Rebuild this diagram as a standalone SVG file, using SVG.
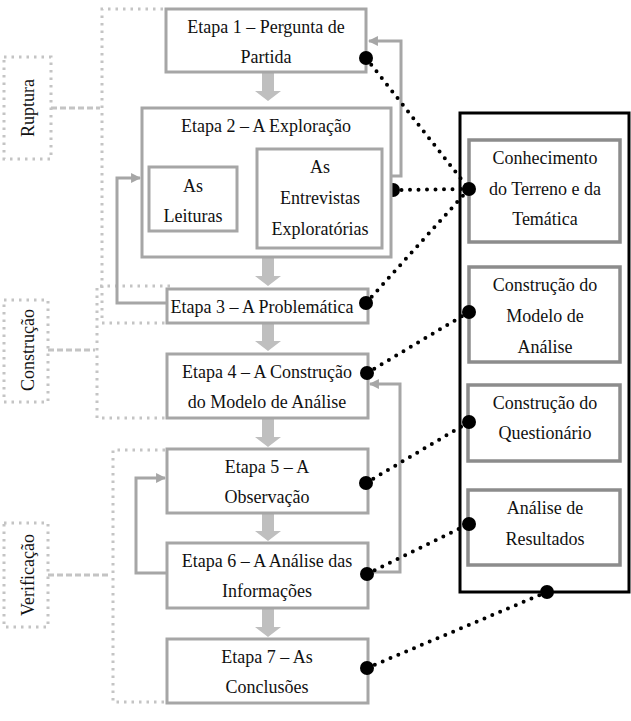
<svg xmlns="http://www.w3.org/2000/svg" width="631" height="721" viewBox="0 0 631 721" font-family="Liberation Serif">
<style>
.box{fill:#fff;stroke:#a6a6a6;stroke-width:3}
.rbox{fill:#fff;stroke:#8c8c8c;stroke-width:3.5}
.t{font-family:"Liberation Serif",serif;font-size:18px;fill:#111;text-anchor:middle}
.gdot{fill:none;stroke:#c4c4c4;stroke-width:3;stroke-dasharray:2.5 5}
.gdash{fill:none;stroke:#c4c4c4;stroke-width:3;stroke-dasharray:6 3}
.fb{fill:none;stroke:#a6a6a6;stroke-width:3}
.thin{fill:none;stroke:#a6a6a6;stroke-width:1.5}
.bdot{fill:none;stroke:#000;stroke-width:4;stroke-dasharray:0 8.5;stroke-linecap:round}
.blk{fill:#bfbfbf}
.pt{fill:#000}
</style>
<defs>
<marker id="ah" viewBox="0 0 10 10" refX="9" refY="5" markerWidth="3.3" markerHeight="3.3" orient="auto" markerUnits="strokeWidth">
<path d="M0,0 L10,5 L0,10 z" fill="#a6a6a6"/>
</marker>
<marker id="ahs" viewBox="0 0 10 10" refX="9" refY="5" markerWidth="6" markerHeight="6" orient="auto" markerUnits="strokeWidth">
<path d="M0,0 L10,5 L0,10 z" fill="#a6a6a6"/>
</marker>
</defs>
<rect width="631" height="721" fill="#fff"/>

<g id="ruptura">
<path class="gdot" d="M163,9 H102 V323 H165"/>
<rect class="gdot" x="4" y="57" width="47" height="102"/>
<path class="gdash" d="M51,108 H100"/>
<text class="t" transform="translate(34,108) rotate(-90)">Ruptura</text>
</g>
<g id="construcao">
<path class="gdot" d="M170,286 H97 V418 H165"/>
<rect class="gdot" x="4" y="300" width="44" height="102"/>
<path class="gdash" d="M48,350 H95"/>
<text class="t" transform="translate(34,350) rotate(-90)">Construção</text>
</g>
<g id="verificacao">
<path class="gdot" d="M165,450 H113 V702 H165"/>
<rect class="gdot" x="4" y="523" width="44" height="104"/>
<path class="gdash" d="M48,575 H111"/>
<text class="t" transform="translate(34,575) rotate(-90)">Verificação</text>
</g>

<g id="painel">
<rect x="460" y="113" width="169" height="479" fill="#fff" stroke="#000" stroke-width="3"/>
</g>
<g id="conhecimento">
<rect class="rbox" x="469" y="140" width="151" height="102"/>
<text class="t" x="545" y="164">Conhecimento</text>
<text class="t" x="545" y="195">do Terreno e da</text>
<text class="t" x="545" y="225">Temática</text>
</g>
<g id="modelo">
<rect class="rbox" x="469" y="267" width="151" height="95"/>
<text class="t" x="545" y="291">Construção do</text>
<text class="t" x="545" y="322">Modelo de</text>
<text class="t" x="545" y="353">Análise</text>
</g>
<g id="questionario">
<rect class="rbox" x="468" y="385" width="152" height="76"/>
<text class="t" x="545" y="409">Construção do</text>
<text class="t" x="545" y="439">Questionário</text>
</g>
<g id="resultados">
<rect class="rbox" x="468" y="490" width="152" height="75"/>
<text class="t" x="545" y="514">Análise de</text>
<text class="t" x="545" y="545">Resultados</text>
</g>

<g id="connectors">
<path class="blk" d="M262,72 H274 V91 H281 L268,101 L255,91 H262 Z"/>
<path class="blk" d="M262,257 H274 V276 H281 L268,286 L255,276 H262 Z"/>
<path class="blk" d="M262,323 H274 V341 H281 L268,351 L255,341 H262 Z"/>
<path class="blk" d="M262,418 H274 V437 H281 L268,447 L255,437 H262 Z"/>
<path class="blk" d="M262,513 H274 V531 H281 L268,541 L255,531 H262 Z"/>
<path class="blk" d="M262,608 H274 V627 H281 L268,637 L255,627 H262 Z"/>
<path class="fb" marker-end="url(#ah)" d="M391,176 H401 V41 H369"/>
<path class="fb" marker-end="url(#ah)" d="M167,303 H117 V178 H140"/>
<path class="fb" marker-end="url(#ah)" d="M167,573 H136 V478 H165"/>
<path class="fb" marker-end="url(#ah)" d="M368,572 H400 V384 H370"/>
<path class="thin" marker-end="url(#ahs)" d="M238,190 H256"/>
<path class="thin" marker-end="url(#ahs)" d="M257,207 H239"/>
<path class="bdot" d="M366,58 L469,189"/>
<path class="bdot" d="M393,190 L469,189"/>
<path class="bdot" d="M366,303 L469,189"/>
<path class="bdot" d="M367,373 L469,312"/>
<path class="bdot" d="M366,483 L469,422"/>
<path class="bdot" d="M367,574 L469,524"/>
<path class="bdot" d="M367,668 L547,592"/>
<circle class="pt" cx="393" cy="190" r="7"/>
<circle class="pt" cx="469" cy="189" r="7"/>
<circle class="pt" cx="469" cy="312" r="7"/>
<circle class="pt" cx="469" cy="422" r="7"/>
<circle class="pt" cx="469" cy="524" r="7"/>
<circle class="pt" cx="547" cy="592" r="7"/>
</g>

<g id="etapa1">
<rect class="box" x="166" y="9" width="200" height="63"/>
<text class="t" x="266" y="33">Etapa 1 – Pergunta de</text>
<text class="t" x="266" y="63">Partida</text>
</g>
<g id="etapa2">
<rect class="box" x="142" y="108" width="249" height="149"/>
<text class="t" x="266" y="132">Etapa 2 – A Exploração</text>
</g>
<g id="leituras">
<rect class="box" x="149" y="167" width="88" height="64"/>
<text class="t" x="193" y="192">As</text>
<text class="t" x="193" y="222">Leituras</text>
</g>
<g id="entrevistas">
<rect class="box" x="257" y="149" width="125" height="99"/>
<text class="t" x="320" y="173">As</text>
<text class="t" x="320" y="204">Entrevistas</text>
<text class="t" x="320" y="235">Exploratórias</text>
</g>
<g id="etapa3">
<rect class="box" x="167" y="289" width="201" height="34"/>
<text class="t" x="262" y="313">Etapa 3 – A Problemática</text>
</g>
<g id="etapa4">
<rect class="box" x="167" y="354" width="201" height="64"/>
<text class="t" x="267" y="378">Etapa 4 – A Construção</text>
<text class="t" x="267" y="408">do Modelo de Análise</text>
</g>
<g id="etapa5">
<rect class="box" x="167" y="449" width="201" height="64"/>
<text class="t" x="267" y="473">Etapa 5 – A</text>
<text class="t" x="267" y="503">Observação</text>
</g>
<g id="etapa6">
<rect class="box" x="167" y="543" width="201" height="65"/>
<text class="t" x="267" y="567">Etapa 6 – A Análise das</text>
<text class="t" x="267" y="597">Informações</text>
</g>
<g id="etapa7">
<rect class="box" x="167" y="639" width="201" height="64"/>
<text class="t" x="267" y="663">Etapa 7 – As</text>
<text class="t" x="267" y="693">Conclusões</text>
</g>
<g id="dots-top">
<circle class="pt" cx="366" cy="58" r="7"/>
<circle class="pt" cx="366" cy="303" r="7"/>
<circle class="pt" cx="367" cy="373" r="7"/>
<circle class="pt" cx="366" cy="483" r="7"/>
<circle class="pt" cx="367" cy="574" r="7"/>
<circle class="pt" cx="367" cy="668" r="7"/>
</g>
</svg>
